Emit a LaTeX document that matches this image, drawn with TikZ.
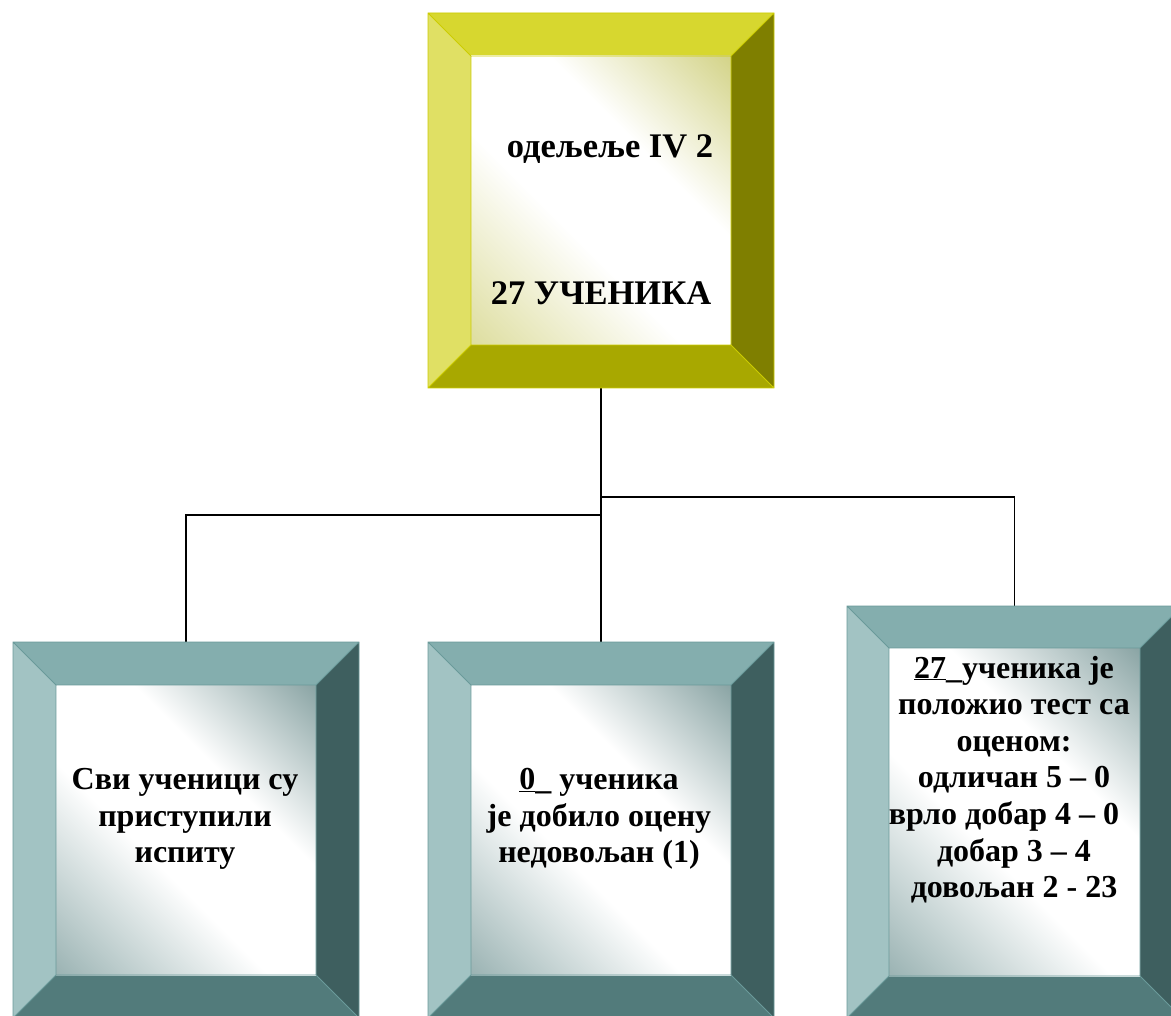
\documentclass[tikz,border=0pt]{standalone}
\usepackage{fontspec}
\setmainfont{Liberation Serif}
\usetikzlibrary{calc}
\definecolor{yTop}{RGB}{215,215,47}
\definecolor{yLeft}{RGB}{224,224,100}
\definecolor{yRight}{RGB}{127,127,0}
\definecolor{yBot}{RGB}{168,168,0}
\definecolor{yLine}{RGB}{204,204,0}
\definecolor{yTintTR}{RGB}{212,212,138}
\definecolor{yTintBL}{RGB}{222,222,160}
\definecolor{tTop}{RGB}{132,174,174}
\definecolor{tLeft}{RGB}{162,195,195}
\definecolor{tRight}{RGB}{62,95,95}
\definecolor{tBot}{RGB}{82,123,123}
\definecolor{tLine}{RGB}{106,154,154}
\definecolor{tTintTR}{RGB}{140,166,166}
\definecolor{tTintBL}{RGB}{156,180,180}
\pgfdeclarehorizontalshading{yface}{100bp}{color(0bp)=(yTintBL); color(15bp)=(yTintBL); color(42bp)=(white); color(62bp)=(white); color(85bp)=(yTintTR); color(100bp)=(yTintTR)}
\pgfdeclarehorizontalshading{tface}{100bp}{color(0bp)=(tTintBL); color(15bp)=(tTintBL); color(42bp)=(white); color(62bp)=(white); color(85bp)=(tTintTR); color(100bp)=(tTintTR)}
\newcommand{\bevelbox}[8]{%
 \coordinate (#1-a) at (#1.north west);
 \coordinate (#1-b) at (#1.north east);
 \coordinate (#1-c) at (#1.south east);
 \coordinate (#1-d) at (#1.south west);
 \coordinate (#1-ia) at ($(#1.north west)+(#2,#2)$);
 \coordinate (#1-ib) at ($(#1.north east)+(-#2,#2)$);
 \coordinate (#1-ic) at ($(#1.south east)+(-#2,-#2)$);
 \coordinate (#1-id) at ($(#1.south west)+(#2,-#2)$);
 \fill[#3] (#1-a) -- (#1-b) -- (#1-ib) -- (#1-ia) -- cycle;
 \fill[#4] (#1-a) -- (#1-ia) -- (#1-id) -- (#1-d) -- cycle;
 \fill[#5] (#1-b) -- (#1-c) -- (#1-ic) -- (#1-ib) -- cycle;
 \fill[#6] (#1-d) -- (#1-id) -- (#1-ic) -- (#1-c) -- cycle;
 \shade[shading=#7, shading angle=45] (#1-ia) rectangle (#1-ic);
 \draw[#8, line width=0.8pt] (#1-a) rectangle (#1-c) (#1-ia) rectangle (#1-ic)
   (#1-a) -- (#1-ia) (#1-b) -- (#1-ib) (#1-c) -- (#1-ic) (#1-d) -- (#1-id);
}
\tikzset{
  boxshape/.style={rectangle, draw=none, inner sep=0pt, outer sep=0pt},
  conn/.style={draw=black, line width=1.6pt},
  txt/.style={font=\bfseries\fontsize{32}{36.6}\selectfont, align=center, inner sep=0pt, text=black},
  toptxt/.style={font=\bfseries\fontsize{34.5}{40}\selectfont, inner sep=0pt, text=black, anchor=base},
}
\begin{document}
\begin{tikzpicture}[x=1pt, y=-1pt]
\useasboundingbox[fill=white] (0,0) rectangle (1171,1016);
% box placeholders
\node[boxshape, minimum width=346pt, minimum height=375pt] (top) at (601,200.5) {};
\node[boxshape, minimum width=346pt, minimum height=376pt] (left) at (186,830) {};
\node[boxshape, minimum width=346pt, minimum height=376pt] (mid) at (601,830) {};
\node[boxshape, minimum width=335pt, minimum height=412pt] (right) at (1014.5,812) {};
% connectors
\coordinate (jL) at (601,515);
\coordinate (jR) at (601,497);
\draw[conn] (top.south) -- (jL);
\draw[conn] (jL) -| (left.north);
\draw[conn] (jL) -- (mid.north);
\draw[conn] (jR) -| (right.north);
% boxes
\bevelbox{top}{43}{yTop}{yLeft}{yRight}{yBot}{yface}{yLine}
\bevelbox{left}{43}{tTop}{tLeft}{tRight}{tBot}{tface}{tLine}
\bevelbox{mid}{43}{tTop}{tLeft}{tRight}{tBot}{tface}{tLine}
\bevelbox{right}{42}{tTop}{tLeft}{tRight}{tBot}{tface}{tLine}
% texts
\node[toptxt] (t1) at (610,158) {одељеље IV 2};
\node[toptxt] (t2) at (601,305) {27 УЧЕНИКА};
\node[txt] (lt) at (185,819) {Сви ученици су\\приступили\\испиту};
\node[txt] (mt) at (599,819) {\underline{0}\_ ученика\\је добило оцену\\недовољан (1)};
\node[txt] (rt) at (1014,779.5) {\underline{27}\_ученика је\\положио тест са\\оценом:\\одличан 5 – 0\\врло добар 4 – 0\rule{20pt}{0pt}\\добар 3 – 4\\довољан 2 - 23};
\end{tikzpicture}
\end{document}
